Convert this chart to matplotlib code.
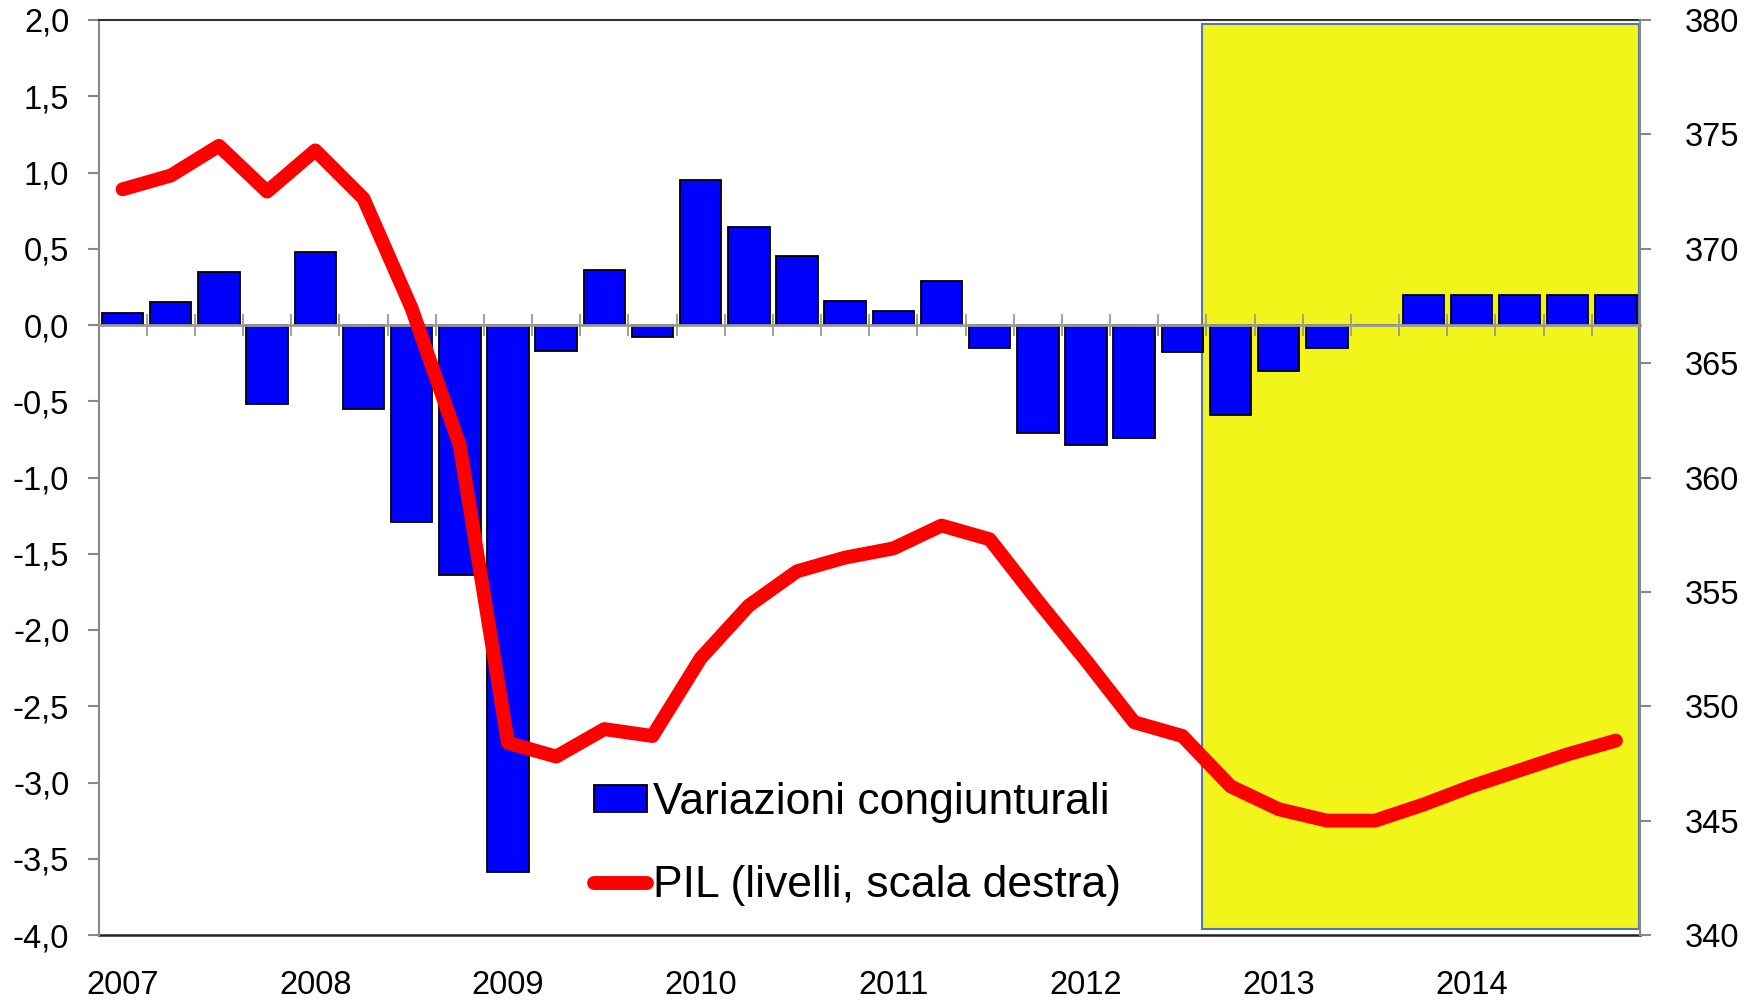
import matplotlib
matplotlib.use("Agg")
import matplotlib.pyplot as plt
import numpy as np
from matplotlib.patches import Rectangle

plt.rcParams['font.family'] = ['Liberation Sans', 'DejaVu Sans']

# ---- data ----
years = ['2007', '2008', '2009', '2010', '2011', '2012', '2013', '2014']
variazioni = [0.08, 0.15, 0.35, -0.52,
              0.48, -0.55, -1.29, -1.64,
              -3.59, -0.17, 0.36, -0.08,
              0.95, 0.64, 0.45, 0.16,
              0.09, 0.29, -0.15, -0.71,
              -0.79, -0.74, -0.18, -0.59,
              -0.30, -0.15, 0.0, 0.20,
              0.20, 0.20, 0.20, 0.20]
pil = [372.6, 373.2, 374.5, 372.5,
       374.3, 372.2, 367.4, 361.4,
       348.4, 347.8, 349.0, 348.7,
       352.1, 354.4, 355.9, 356.5,
       356.9, 357.9, 357.3, 354.6,
       352.0, 349.3, 348.7, 346.5,
       345.5, 345.0, 345.0, 345.7,
       346.5, 347.2, 347.9, 348.5]
label_bar = 'Variazioni congiunturali'
label_line = 'PIL (livelli, scala destra)'
forecast_start = 22.4   # shaded forecast area starts here (category index)

n = len(variazioni)
x = np.arange(n)

W, H = 1754, 1001
fig = plt.figure(figsize=(W / 100, H / 100), dpi=100)
ax = fig.add_axes([98.5 / W, 1 - 935 / H, (1640 - 98.5) / W, (935 - 20) / H])

ax.set_xlim(-0.5, n - 0.5)
ax.set_ylim(-4.0, 2.0)

# shaded forecast box
rect = Rectangle((forecast_start, 0.007), (n - 0.52) - forecast_start, 0.989,
                 transform=ax.get_xaxis_transform(), facecolor='#F2F51A',
                 edgecolor='#5577AA', linewidth=1.5, zorder=0)
ax.add_patch(rect)

bars = ax.bar(x, variazioni, width=0.86, color='#0000FF', edgecolor='black',
              linewidth=1.3, zorder=2, label=label_bar)

# y axis left
ax.set_yticks(np.arange(-4.0, 2.01, 0.5))
ax.set_yticklabels([f"{v:.1f}".replace('.', ',') for v in np.arange(-4.0, 2.01, 0.5)])
ax.tick_params(axis='y', length=8, width=1.5, color='#888888', labelsize=23.5, pad=13)

# category axis at zero
ax.spines['bottom'].set_position(('data', 0))
ax.spines['bottom'].set_color('#999999')
ax.spines['bottom'].set_linewidth(2)
ax.spines['bottom'].set_zorder(3)
ax.set_xticks(np.arange(-0.5, n, 1.0)[1:-1])
ax.tick_params(axis='x', direction='inout', length=16, width=1.3, color='#999999',
               labelbottom=False)
ax.spines['left'].set_color('#888888')
ax.spines['left'].set_linewidth(1.5)
ax.spines['top'].set_color('#333333')
ax.spines['top'].set_linewidth(1.5)
ax.spines['right'].set_visible(False)

# bottom frame with year labels
sec = ax.secondary_xaxis(0.0)
sec.set_xticks(x[::4])
sec.set_xticklabels(years)
sec.tick_params(length=0, labelsize=23.5, pad=25)
sec.spines['bottom'].set_color('#222222')
sec.spines['bottom'].set_linewidth(1.8)

# right axis line
ax2 = ax.twinx()
ax2.set_ylim(340, 380)
ax2.set_yticks(np.arange(340, 381, 5))
line, = ax2.plot(x, pil, color='#FF0000', linewidth=10, solid_capstyle='round',
                 solid_joinstyle='round', label=label_line, zorder=4)
ax2.tick_params(axis='y', length=8, width=1.5, color='#888888', labelsize=23.5, pad=24)
ax2.spines['right'].set_color('#888888')
ax2.spines['right'].set_linewidth(1.5)
for s in ['top', 'bottom', 'left']:
    ax2.spines[s].set_visible(False)

leg = ax2.legend([bars, line], [label_bar, label_line], loc='upper left',
                 bbox_to_anchor=(594 / W, 1 - 782 / H), bbox_transform=fig.transFigure,
                 frameon=False, fontsize=32, handlelength=1.2, handleheight=0.55,
                 handletextpad=0.12, labelspacing=0.95, borderpad=0, borderaxespad=0)

fig.savefig('out.png', dpi=100)
